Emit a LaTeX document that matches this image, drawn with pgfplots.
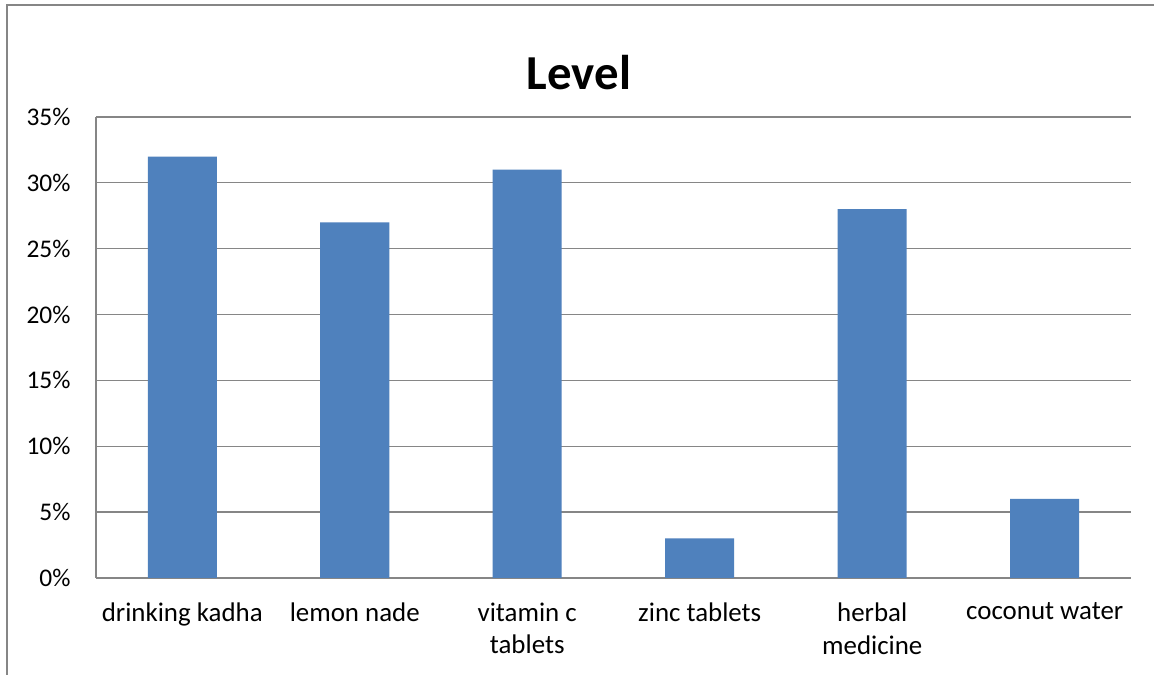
\documentclass[border=0pt]{standalone}
\usepackage{pgfplots}
\pgfplotsset{compat=1.18}
\usepackage{fontspec}
\setmainfont{Carlito}
\definecolor{barblue}{HTML}{4F81BD}
\definecolor{gridgray}{HTML}{868686}
\begin{document}
\begin{tikzpicture}[x=1bp,y=1bp]
\useasboundingbox (0,0) rectangle (1154,675);
\fill[white] (0,0) rectangle (1154,675);
\draw[gridgray, line width=1.5bp] (7,0) -- (7,670) -- (1154,670);
\node[font=\fontsize{49}{58}\selectfont\bfseries] at (579,602) {Level};
\begin{axis}[
  at={(96bp,97bp)}, anchor=south west,
  scale only axis,
  width=1035bp, height=461bp,
  xmin=-0.5, xmax=5.5,
  ymin=0, ymax=35,
  ytick={0,5,...,35},
  yticklabel={\pgfmathprintnumber{\tick}\%},
  xtick={0,1,2,3,4,5},
  xticklabels={drinking kadha, lemon nade, {vitamin c\\tablets}, zinc tablets, {herbal\\medicine}, coconut water},
  xticklabel style={align=center, font=\fontsize{27}{33}\selectfont, yshift=-21bp},
  yticklabel style={font=\fontsize{25.5}{30}\selectfont, xshift=-22bp},
  /pgf/number format/assume math mode=true,
  major tick length=0pt,
  ymajorgrids,
  grid style={gridgray, line width=1.3bp},
  axis x line*=bottom,
  axis y line*=left,
  axis line style={gridgray, line width=1.3bp, -},
  ybar, bar width=69bp,
  clip=false,
]
\addplot[fill=barblue, draw=none] coordinates {(0,32) (1,27) (2,31) (3,3) (4,28) (5,6)};
\end{axis}
\end{tikzpicture}
\end{document}
